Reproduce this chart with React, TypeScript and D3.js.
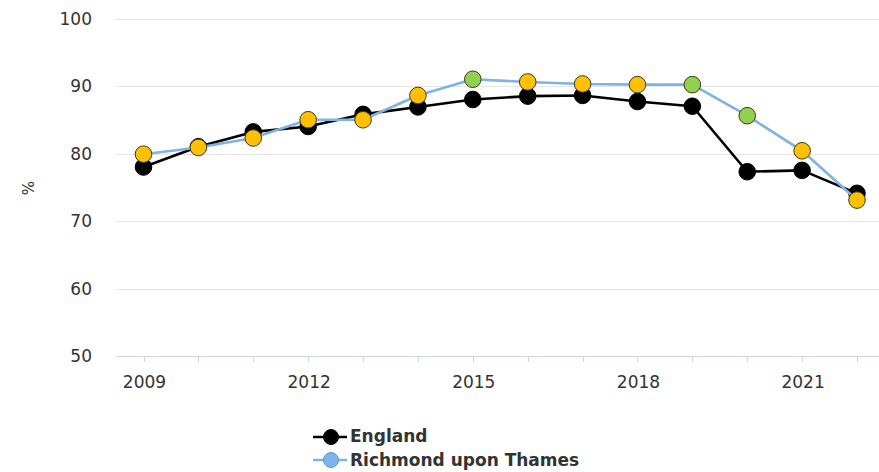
import React from "react";
import * as d3 from "d3";

const years = [2009, 2010, 2011, 2012, 2013, 2014, 2015, 2016, 2017, 2018, 2019, 2020, 2021, 2022];
const englandValues = [78.0, 81.0, 83.2, 84.0, 85.8, 86.9, 88.0, 88.5, 88.6, 87.7, 87.0, 77.3, 77.5, 74.1];
const richmondValues = [79.9, 80.9, 82.3, 85.0, 85.0, 88.6, 91.0, 90.6, 90.3, 90.2, 90.2, 85.6, 80.4, 73.1];
const richmondSignificance = ["similar", "similar", "similar", "similar", "similar", "similar", "better", "similar", "similar", "similar", "better", "better", "similar", "similar"];
const yTicks = [50, 60, 70, 80, 90, 100];
const xLabelYears = [2009, 2012, 2015, 2018, 2021];
const seriesNames = ["England", "Richmond upon Thames"];

const W = 879;
const H = 472;
const FONT = "'DejaVu Sans', Verdana, sans-serif";

const sigColor: Record<string, string> = {
  better: "#92D050",
  similar: "#FFC000",
  worse: "#C00000",
};

export default function App() {
  const x = d3.scalePoint<number>().domain(years).range([143.5, 857]);
  const y = d3.scaleLinear().domain([50, 100]).range([356, 18.5]);
  const plotLeft = 116;
  const plotRight = 879;

  const line = d3
    .line<number>()
    .x((_, i) => x(years[i]) as number)
    .y((d) => y(d));

  return (
    <svg
      width={W}
      height={H}
      style={{ position: "absolute", left: 0, top: 0, background: "#fff" }}
      fontFamily={FONT}
    >
      <rect x={0} y={0} width={W} height={H} fill="#fff" />
      {yTicks.map((t) => (
        <line
          key={"g" + t}
          x1={plotLeft}
          x2={plotRight}
          y1={Math.round(y(t)) + 0.5}
          y2={Math.round(y(t)) + 0.5}
          stroke={t === 50 ? "#ccd6eb" : "#e6e6e6"}
          strokeWidth={1}
        />
      ))}
      {yTicks.map((t) => (
        <text
          key={"yl" + t}
          x={92}
          y={y(t)}
          dy="0.36em"
          textAnchor="end"
          fontSize={17}
          fill="#333"
        >
          {t}
        </text>
      ))}
      <text
        transform={`translate(34,188) rotate(-90)`}
        textAnchor="middle"
        fontSize={15}
        fill="#333"
      >
        %
      </text>
      {years.map((yr) => (
        <line
          key={"xt" + yr}
          x1={Math.round(x(yr) as number) + 0.5}
          x2={Math.round(x(yr) as number) + 0.5}
          y1={356}
          y2={362}
          stroke="#ccd6eb"
        />
      ))}
      {xLabelYears.map((yr) => (
        <text
          key={"xl" + yr}
          x={(x(yr) as number) + 1}
          y={388}
          textAnchor="middle"
          fontSize={17}
          fill="#333"
        >
          {yr}
        </text>
      ))}
      <path d={line(englandValues) || ""} fill="none" stroke="#000" strokeWidth={2.6} strokeLinejoin="round" />
      {englandValues.map((v, i) => (
        <circle key={"e" + i} cx={x(years[i])} cy={y(v)} r={8.3} fill="#000" stroke="#000" strokeWidth={1} />
      ))}
      <path d={line(richmondValues) || ""} fill="none" stroke="#7fb2e5" strokeWidth={2.6} strokeLinejoin="round" />
      {richmondValues.map((v, i) => (
        <circle
          key={"r" + i}
          cx={x(years[i])}
          cy={y(v)}
          r={8.3}
          fill={sigColor[richmondSignificance[i]]}
          stroke="#3a3a1a"
          strokeWidth={1}
        />
      ))}
      <g>
        <line x1={313} x2={347} y1={437} y2={437} stroke="#000" strokeWidth={2.6} />
        <circle cx={331} cy={437} r={7.5} fill="#000" stroke="#000" />
        <text x={350} y={442} fontSize={17} fontWeight="bold" fill="#333">
          {seriesNames[0]}
        </text>
        <line x1={313} x2={347} y1={460} y2={460} stroke="#7fb2e5" strokeWidth={2.6} />
        <circle cx={331} cy={460} r={7.5} fill="#7cb5ec" stroke="#5b95cf" />
        <text x={350} y={466} fontSize={17} fontWeight="bold" fill="#333">
          {seriesNames[1]}
        </text>
      </g>
    </svg>
  );
}
